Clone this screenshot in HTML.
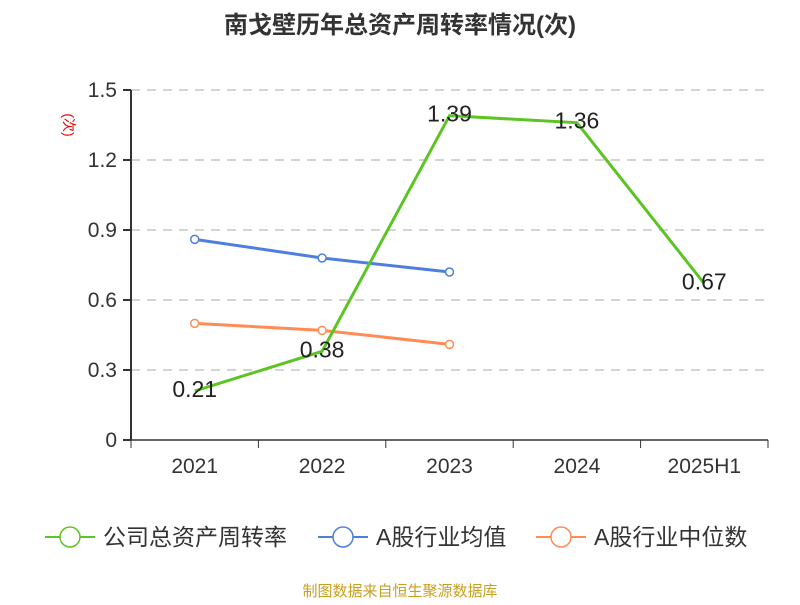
<!DOCTYPE html>
<html><head><meta charset="utf-8"><style>
body{margin:0;background:#fff;}
svg{font-family:"Liberation Sans","Noto Sans CJK SC",sans-serif;}
</style></head><body>
<svg id="c" width="800" height="600">
<text x="400" y="33" text-anchor="middle" font-size="24" font-weight="bold" fill="#333">南戈壁历年总资产周转率情况(次)</text>
<text transform="translate(64,125) rotate(90)" text-anchor="middle" font-size="14" fill="#e00">(次)</text>
<text x="400" y="596" text-anchor="middle" font-size="15" fill="#c8a020">制图数据来自恒生聚源数据库</text>
</svg>
<script>
const categories=["2021","2022","2023","2024","2025H1"];
const companyVals=[0.21,0.38,1.39,1.36,0.67];
const avgVals=[0.86,0.78,0.72];
const medianVals=[0.50,0.47,0.41];
const yTicks=[0,0.3,0.6,0.9,1.2,1.5];
const yTickLabels=["0","0.3","0.6","0.9","1.2","1.5"];
const svg=document.getElementById('c');const NS="http://www.w3.org/2000/svg";
const L=131,R=768,T=90,B=440,bw=(R-L)/categories.length;
const x=i=>L+bw*(i+0.5), y=v=>B-(v/1.5)*(B-T);
function mk(t,a,p){const e=document.createElementNS(NS,t);for(const k in a)e.setAttribute(k,a[k]);(p||svg).appendChild(e);return e;}
yTicks.forEach((v,i)=>{
 if(v>0){const g=mk('line',{x1:L,x2:R,y1:y(v),y2:y(v),stroke:'#bbb','stroke-width':1.3,'stroke-dasharray':'9,7'});
 
 }
 const t=mk('line',{x1:L-8,x2:L,y1:y(v),y2:y(v),stroke:'#333','stroke-width':2});
 
 
 const tx=mk('text',{x:L-14,y:y(v)+7,'text-anchor':'end','font-size':21,fill:'#333'});tx.textContent=yTickLabels[i];
 
 
});
const ya=mk('line',{x1:L,x2:L,y1:T,y2:B,stroke:'#333','stroke-width':2});


const xa=mk('line',{x1:L,x2:R,y1:B,y2:B,stroke:'#333','stroke-width':1.5});


for(let i=0;i<=categories.length;i++){const t=mk('line',{x1:L+bw*i,x2:L+bw*i,y1:B,y2:B+8,stroke:'#333'});
 
 }
categories.forEach((c,i)=>{const t=mk('text',{x:x(i),y:473,'text-anchor':'middle','font-size':21,fill:'#333'});t.textContent=c;
 
 });
function series(vals,color,name,markers,labels){
 const p=mk('polyline',{points:vals.map((v,i)=>x(i)+','+y(v)).join(' '),fill:'none',stroke:color,'stroke-width':3});
 
 
 vals.forEach((v,i)=>{
  if(markers){const c=mk('circle',{cx:x(i),cy:y(v),r:4,fill:'#fff',stroke:color,'stroke-width':1.5});
   
   }
  if(labels){const t=mk('text',{x:x(i),y:y(v)+6,'text-anchor':'middle','font-size':23,fill:'#222'});t.textContent=v.toFixed(2);
   
   }
 });
}
series(avgVals,'#4e7fe0','industry-average',true,false);
series(medianVals,'#ff8c55','industry-median',true,false);
series(companyVals,'#5cc423','company',false,true);
const legend=[["公司总资产周转率","#5cc423",45],["A股行业均值","#4e7fe0",318],["A股行业中位数","#ff8c55",536]];
legend.forEach(([t,c,lx])=>{
 const g=mk('g',{});
 
 
 mk('line',{x1:lx,x2:lx+50,y1:537,y2:537,stroke:c,'stroke-width':2},g);
 mk('circle',{cx:lx+25,cy:537,r:10,fill:'#fff',stroke:c,'stroke-width':1.5},g);
 const tx=mk('text',{x:lx+58,y:545,'font-size':23,fill:'#333'},g);tx.textContent=t;
});
</script>
</body></html>
